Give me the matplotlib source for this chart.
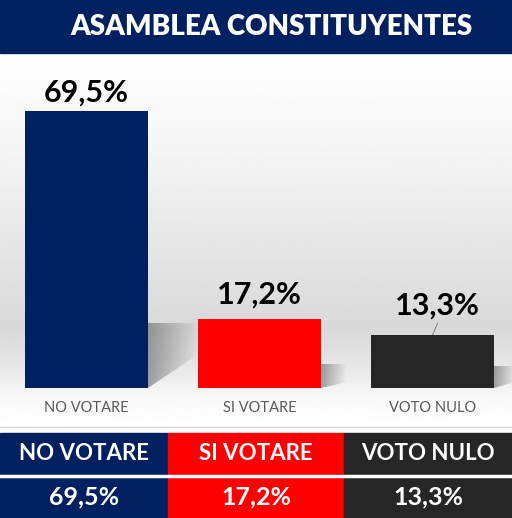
import numpy as np
import matplotlib.pyplot as plt
from matplotlib.patches import Rectangle, Polygon

# data
categories = ["NO VOTARE", "SI VOTARE", "VOTO NULO"]
values = [69.5, 17.2, 13.3]
value_labels = ["69,5%", "17,2%", "13,3%"]
colors = ["#002060", "#ff0000", "#262626"]
title = "ASAMBLEA CONSTITUYENTES"

W, H = 512, 518
fig = plt.figure(figsize=(W / 100, H / 100), dpi=100)
fig.patch.set_facecolor("white")

# pixel-space background axes (y down)
bg = fig.add_axes([0, 0, 1, 1])
bg.set_xlim(0, W)
bg.set_ylim(H, 0)
bg.axis("off")

# soft vertical gradient behind the bars
ys = np.array([53, 150, 250, 330, 370, 400, 425])
gs = np.array([1.0, 0.96, 0.9, 0.85, 0.91, 0.98, 1.0])
yy = np.linspace(53, 425, 300)
g = np.interp(yy, ys, gs)
img = np.repeat(g[:, None], 2, axis=1)
bg.imshow(img, cmap="gray", vmin=0, vmax=1, extent=[0, W, 425, 53],
          aspect="auto", zorder=0)

# title bar
bg.add_patch(Rectangle((0, 0), W, 53, color="#002060", zorder=1))
bg.text(271, 27, title, color="white", fontsize=20, fontweight="heavy",
        family="Lato", ha="center", va="center", zorder=2)

# separator under category labels
bg.plot([0, W], [427, 427], color="#d9d9d9", lw=1, zorder=1)

# bar chart axes
base_px, top_px = 388, 53
ax = fig.add_axes([0, (H - base_px) / H, 1, (base_px - top_px) / H])
ax.patch.set_alpha(0)
px_per_unit = 277 / values[0]
ax.set_ylim(0, (base_px - top_px) / px_per_unit)
x = np.arange(len(categories))
ax.set_xlim(-86.5 / 173, (W - 86.5) / 173)
bw = 123 / 173
ax.bar(x, values, width=bw, color=colors, zorder=3)
ax.axis("off")

# soft cast shadows to the right of each bar (gradient clipped to a wedge)
shadow_shape = [(16.3, 8.8, 0.30), (6.0, 1.5, 0.15), (5.5, 1.5, 0.12)]
shade = np.linspace(0.55, 0.0, 64)[None, :]
for i, (top, tail, L) in enumerate(shadow_shape):
    r = x[i] + bw / 2
    wedge = Polygon([(r, 0), (r, top), (r + L, top), (r + L, tail)],
                    closed=True, transform=ax.transData, facecolor="none", lw=0)
    ax.add_patch(wedge)
    im = ax.imshow(np.dstack([np.full((1, 64, 3), 0.35), shade[..., None]]),
                   extent=[r, r + L, 0, top], aspect="auto", zorder=2,
                   interpolation="bilinear")
    im.set_clip_path(wedge)
ax.set_xlim(-86.5 / 173, (W - 86.5) / 173)
ax.set_ylim(0, (base_px - top_px) / px_per_unit)

offsets = [2.3, 4.0, 5.0]
for i, (v, lab) in enumerate(zip(values, value_labels)):
    dx = 0.03 if i == 2 else 0
    ax.text(x[i] + dx, v + offsets[i], lab, ha="center", va="baseline",
            fontsize=22, fontweight="bold", family="Lato", color="black")
# leader line for the last label
ax.plot([x[2], x[2] + 0.03], [values[2], values[2] + 3.0], color="#7f7f7f", lw=0.7)

for i, c in enumerate(categories):
    ax.text(x[i], -20 / px_per_unit, c, ha="center", va="center", fontsize=10.5,
            family="Lato", fontweight="normal", color="#595959", clip_on=False)

# bottom table
col_edges = [0, 168, 344, W]
for i, (c, lab, col) in enumerate(zip(categories, value_labels, colors)):
    x0, x1 = col_edges[i], col_edges[i + 1]
    bg.add_patch(Rectangle((x0, 433), x1 - x0, 41, color=col, zorder=1))
    bg.add_patch(Rectangle((x0, 478), x1 - x0, 40, color=col, zorder=1))
    cx = (x0 + x1) / 2
    bg.text(cx, 454, c, color="white", fontsize=16, fontweight="bold",
            family="Lato", ha="center", va="center", zorder=2)
    bg.text(cx, 497, lab, color="white", fontsize=18, fontweight="bold",
            family="Lato", ha="center", va="center", zorder=2)
bg.plot([0, W], [476, 476], color="white", lw=2.5, zorder=2)

fig.savefig("out.png", dpi=100)
